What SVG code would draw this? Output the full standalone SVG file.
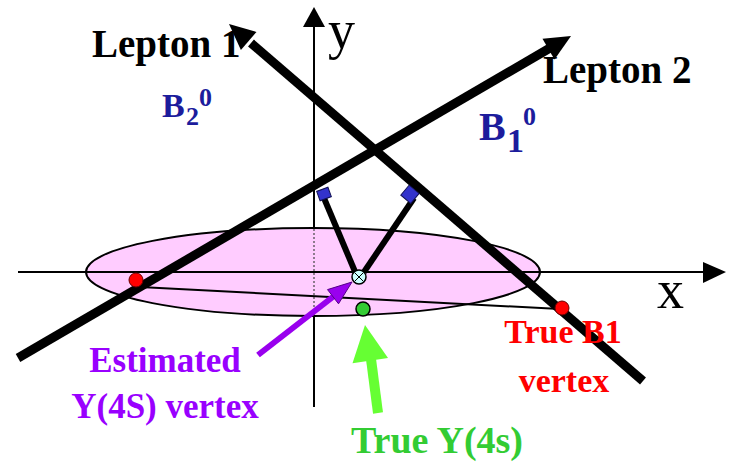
<svg xmlns="http://www.w3.org/2000/svg" width="734" height="462" viewBox="0 0 734 462">
<style>
.lbl{font-family:"Liberation Serif","Times New Roman",serif;font-weight:bold}
.ax{stroke:#000;stroke-width:2;fill:none}
.lep{stroke:#000;stroke-width:9;fill:none}
.perp{stroke:#000;stroke-width:6;fill:none}
.blue{fill:#1c1c9c}
.sq{fill:#3333cc;stroke:#111155;stroke-width:1}
</style>
<rect width="734" height="462" fill="#fff"/>
<g id="axes">
<line class="ax" x1="314" y1="20" x2="314" y2="407"/>
<polygon points="314,7 303,27 325,27" fill="#000"/>
</g>
<g id="plane">
<ellipse cx="313" cy="272" rx="227" ry="44" fill="#ffccff" stroke="#000" stroke-width="2"/>
<line x1="314" y1="229" x2="314" y2="316" stroke="#444" stroke-width="1.2" stroke-dasharray="2,2"/>
</g>
<g id="xaxis">
<line class="ax" x1="18" y1="272" x2="710" y2="272"/>
<polygon points="726,272 703,262 703,283" fill="#000"/>
<text x="657" y="308" font-family="Liberation Serif, serif" font-size="54">x</text>
<text x="328" y="48" font-family="Liberation Serif, serif" font-size="54">y</text>
</g>
<g id="connectors">
<line x1="140" y1="287" x2="560" y2="309" stroke="#000" stroke-width="2"/>
<line class="lep" x1="643" y1="381" x2="251" y2="43"/>
<polygon points="229,24 256.5,31.9 240.9,50.1" fill="#000"/>
<line class="lep" x1="18" y1="358" x2="550" y2="48"/>
<polygon points="571,36 554.5,59.5 542.5,38.7" fill="#000"/>
<line class="perp" x1="321" y1="191" x2="356" y2="274"/>
<line class="perp" x1="414" y1="198" x2="364" y2="272"/>
<line x1="258" y1="355" x2="334" y2="296" stroke="#9900ee" stroke-width="6"/>
<polygon points="352,282 338.5,303.8 327.5,289.6" fill="#9900ee" stroke="#550088" stroke-width="1"/>
<line x1="378" y1="413" x2="371" y2="359" stroke="#66ff33" stroke-width="10"/>
<polygon points="365,325 388,358 352.5,363.2" fill="#66ff33"/>
</g>
<g id="markers">
<rect class="sq" x="318" y="189" width="12" height="10" transform="rotate(-20 324 194)"/>
<rect class="sq" x="403" y="188" width="13" height="13" transform="rotate(40 410 195)"/>
</g>
<g id="vertex-b2"><circle cx="136" cy="280" r="7" fill="#ff0000" stroke="#660000" stroke-width="1"/></g>
<g id="vertex-b1"><circle cx="562" cy="308" r="7" fill="#ff0000" stroke="#660000" stroke-width="1"/></g>
<g id="vertex-true"><circle cx="363" cy="309" r="7" fill="#33cc33" stroke="#000" stroke-width="1.5"/></g>
<g id="vertex-est">
<circle cx="359" cy="277" r="7" fill="#ccffff" stroke="#000" stroke-width="1.5"/>
<path d="M354.5,272.5 L363.5,281.5 M363.5,272.5 L354.5,281.5" stroke="#000" stroke-width="1"/>
</g>
<g id="labels">
<text class="lbl" x="92" y="57" font-size="39">Lepton 1</text>
<text class="lbl" x="543" y="83" font-size="39">Lepton 2</text>
<text class="lbl blue" x="162" y="117" font-size="34">B</text>
<text class="lbl blue" x="186" y="125" font-size="26">2</text>
<text class="lbl blue" x="199" y="106" font-size="26">0</text>
<text class="lbl blue" x="479" y="140" font-size="40">B</text>
<text class="lbl blue" x="507" y="152" font-size="34">1</text>
<text class="lbl blue" x="523" y="125" font-size="26">0</text>
<text class="lbl" x="165" y="372" font-size="35" fill="#9900ff" text-anchor="middle">Estimated</text>
<text class="lbl" x="165" y="418" font-size="35" fill="#9900ff" text-anchor="middle">Y(4S) vertex</text>
<text class="lbl" x="437" y="453" font-size="38" fill="#33cc33" text-anchor="middle">True Y(4s)</text>
<text class="lbl" x="563" y="343" font-size="34" fill="#ff0000" text-anchor="middle">True B1</text>
<text class="lbl" x="564" y="392" font-size="34" fill="#ff0000" text-anchor="middle">vertex</text>
</g>
</svg>
